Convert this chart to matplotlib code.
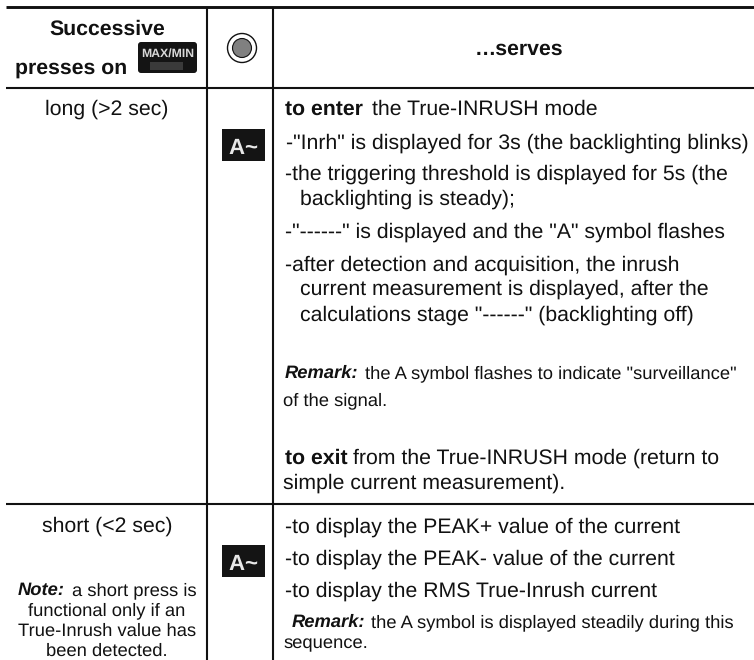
"""
Table: successive presses on MAX/MIN and what each press serves.
"""
import matplotlib
matplotlib.use("Agg")
import matplotlib.pyplot as plt
from matplotlib.patches import Circle, FancyBboxPatch, Rectangle

W, H = 754, 660
INK = "#111111"
BODY = 15.3
SMALL = 13.2

HEADERS = ["Successive", "presses on", "…serves"]
LEFT_LINES = ["long (>2 sec)", "short (<2 sec)"]
NOTE_LINES = ["a short press is", "functional only if an",
              "True-Inrush value has", "been detected."]
RIGHT_LINES = [
    '-"Inrh" is displayed for 3s (the backlighting blinks)',
    "-the triggering threshold is displayed for 5s (the",
    "backlighting is steady);",
    '-"------" is displayed and the "A" symbol flashes',
    "-after detection and acquisition, the inrush",
    "current measurement is displayed, after the",
    'calculations stage "------" (backlighting off)',
    "simple current measurement).",
    "-to display the PEAK+ value of the current",
    "-to display the PEAK- value of the current",
    "-to display the RMS True-Inrush current",
]

# layout of RIGHT_LINES, in picture pixels
RIGHT_X = [286, 285, 300, 285, 285, 300, 300, 283, 285, 285, 285]
RIGHT_Y = [149, 180, 205, 238, 271, 295, 321, 489, 533, 565, 597]

plt.rcParams["font.family"] = ["Liberation Sans", "DejaVu Sans"]
plt.rcParams["text.hinting"] = "no_hinting"

fig = plt.figure(figsize=(W / 100, H / 100), dpi=100, facecolor="white")
ax = fig.add_axes([0, 0, 1, 1])
ax.set_xlim(0, W)
ax.set_ylim(H, 0)
ax.axis("off")

# ── Rules ─────────────────────────────────────────────────────────────────────
ax.plot([6, W], [7, 7], color=INK, lw=2.1, solid_capstyle="butt")
ax.plot([6, W], [87.5, 87.5], color=INK, lw=1.5, solid_capstyle="butt")
ax.plot([6, W], [504, 504], color=INK, lw=1.5, solid_capstyle="butt")
for x in (207, 273):
    ax.plot([x, x], [7, H], color=INK, lw=1.5, solid_capstyle="butt")

# ── Header ────────────────────────────────────────────────────────────────────
ax.text(107, 35, HEADERS[0], ha="center", va="baseline", fontsize=BODY, fontweight="bold", color=INK)
ax.text(15, 74, HEADERS[1], ha="left", va="baseline", fontsize=BODY, fontweight="bold", color=INK)
ax.text(519, 55, HEADERS[2], ha="center", va="baseline", fontsize=BODY, fontweight="bold", color=INK)

ax.add_patch(FancyBboxPatch((138, 42), 59, 31, boxstyle="round,pad=0,rounding_size=3", fc="#141414", ec="none"))
ax.text(167.5, 57, "MAX/MIN", ha="center", va="baseline", fontsize=8.8, fontweight="bold", color="#d8d8d8")
ax.add_patch(Rectangle((150, 62), 33, 8, fc="#3a3a3a", ec="none"))

ax.add_patch(Circle((242, 48), 14.5, fc="white", ec=INK, lw=1.0))
ax.add_patch(Circle((242, 48), 9.5, fc="#808080", ec=INK, lw=0.8))

# ── Left column ───────────────────────────────────────────────────────────────
ax.text(107, 115, LEFT_LINES[0], ha="center", va="baseline", fontsize=BODY, color=INK)
ax.text(107, 532, LEFT_LINES[1], ha="center", va="baseline", fontsize=BODY, color=INK)

ax.text(18, 595, "Note:", ha="left", va="baseline", fontsize=SMALL, fontweight="bold", style="italic", color=INK)
ax.text(72, 595, NOTE_LINES[0], ha="left", va="baseline", fontsize=SMALL, color=INK)
for line, y in zip(NOTE_LINES[1:], (615, 636, 655.5)):
    ax.text(107, y, line, ha="center", va="baseline", fontsize=SMALL, color=INK)

# ── Icons ─────────────────────────────────────────────────────────────────────
for top in (129, 545):
    ax.add_patch(Rectangle((222, top), 43, 32, fc="#141414", ec="none"))
    ax.text(228, top + 25, "A", ha="left", va="baseline", fontsize=16, fontweight="bold", color="#e8e8e8")
    ax.text(244, top + 25, "~", ha="left", va="baseline", fontsize=16, fontweight="bold", color="#e8e8e8")

# ── Right column ──────────────────────────────────────────────────────────────
ax.text(285, 115, "to enter", ha="left", va="baseline", fontsize=BODY, fontweight="bold", color=INK)
ax.text(372, 115, "the True-INRUSH mode", ha="left", va="baseline", fontsize=BODY, color=INK)
ax.text(285, 464, "to exit", ha="left", va="baseline", fontsize=BODY, fontweight="bold", color=INK)
ax.text(353, 464, "from the True-INRUSH mode (return to", ha="left", va="baseline", fontsize=BODY, color=INK)
for line, x, y in zip(RIGHT_LINES, RIGHT_X, RIGHT_Y):
    ax.text(x, y, line, ha="left", va="baseline", fontsize=BODY, color=INK)

ax.text(285, 378, "Remark:", ha="left", va="baseline", fontsize=SMALL, fontweight="bold", style="italic", color=INK)
ax.text(365, 378, 'the A symbol flashes to indicate "surveillance"', ha="left", va="baseline", fontsize=SMALL, color=INK)
ax.text(283, 405, "of the signal.", ha="left", va="baseline", fontsize=SMALL, color=INK)

ax.text(292, 627, "Remark:", ha="left", va="baseline", fontsize=SMALL, fontweight="bold", style="italic", color=INK)
ax.text(371, 627, "the A symbol is displayed steadily during this", ha="left", va="baseline", fontsize=SMALL, color=INK)
ax.text(283, 648, "sequence.", ha="left", va="baseline", fontsize=SMALL, color=INK)

fig.savefig("out.png", dpi=100, facecolor="white")
plt.close(fig)
